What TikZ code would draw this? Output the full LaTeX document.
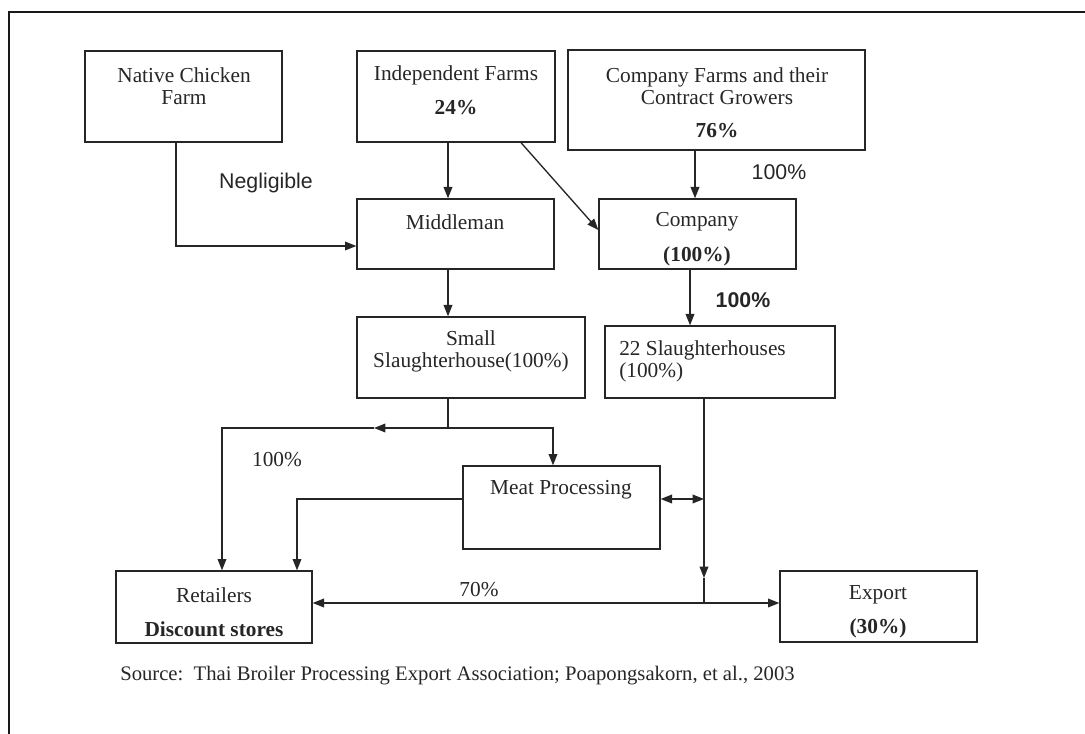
\documentclass[tikz,border=0pt]{standalone}
\usepackage{fontspec}
\setmainfont{Liberation Serif}
\newfontfamily\labelfont{Liberation Sans}
\usetikzlibrary{arrows.meta,fit}

\begin{document}
\begin{tikzpicture}[x=0.75pt,y=-0.75pt,
  box/.style={draw=black!85, line width=1pt, inner sep=0pt},
  txt/.style={font=\fontsize{16}{16.5}\selectfont, text=black!85, inner sep=0pt, align=center},
  lbl/.style={font=\labelfont\fontsize{16}{18}\selectfont, text=black!85, inner sep=0pt},
  conn/.style={draw=black!85, line width=1pt},
  tip/.style={-{Triangle[length=8.5pt,width=6.5pt]}},
  bitip/.style={{Triangle[length=8.5pt,width=6.5pt]}-{Triangle[length=8.5pt,width=6.5pt]}},
]
\useasboundingbox (0,0) rectangle (1085,734);

% outer frame, open to the right and bottom
\draw[line width=2pt, black!90] (9,740) -- (9,12) -- (1092,12);

% boxes
\node[box, fit={(85,51) (282,142)}]   (native)  {};
\node[box, fit={(357,51) (555,142)}]  (indep)   {};
\node[box, fit={(568,50) (865,150)}]  (cfarms)  {};
\node[box, fit={(357,199) (554,269)}] (middle)  {};
\node[box, fit={(599,199) (796,269)}] (company) {};
\node[box, fit={(357,317) (585,398)}] (smallsh) {};
\node[box, fit={(605,326) (835,398)}] (bigsh)   {};
\node[box, fit={(463,466) (660,549)}] (meat)    {};
\node[box, fit={(116,571) (312,643)}] (retail)  {};
\node[box, fit={(780,571) (977,642)}] (export)  {};

% box texts
\node[txt] (tnative) at (184,86) {Native Chicken\\Farm};
\node[txt] (tindep) at (456,75) {Independent Farms};
\node[txt] (pindep) at (456,108) {\textbf{24\%}};
\node[txt] (tcfarms) at (717,86) {Company Farms and their\\Contract Growers};
\node[txt] (pcfarms) at (717,131) {\textbf{76\%}};
\node[txt] (tmiddle) at (455,222) {Middleman};
\node[txt] (tcompany) at (697,222) {Company};
\node[txt] (pcompany) at (697,256) {\textbf{(100\%)}};
\node[txt] (tsmallsh) at (471,351) {Small\\Slaughterhouse(100\%)};
\node[txt, align=left, anchor=west] (tbigsh) at (619,361) {22 Slaughterhouses\\(100\%)};
\node[txt] (tmeat) at (561,490) {Meat Processing};
\node[txt] (tretail) at (214,595) {Retailers};
\node[txt] (pretail) at (214,629) {\textbf{Discount stores}};
\node[txt] (texport) at (878,595) {Export};
\node[txt] (pexport) at (878,628) {\textbf{(30\%)}};

% flow labels
\node[lbl] (lneg) at (266,183) {Negligible};
\node[lbl] (lcf) at (779,172) {100\%};
\node[lbl, font=\labelfont\bfseries\fontsize{16}{18}\selectfont] (lco) at (743,300) {100\%};
\node[txt] (lsmall) at (277,460) {100\%};
\node[txt] (lseventy) at (479,590) {70\%};
\node[txt, font=\fontsize{15.5}{18}\selectfont, anchor=west] (source) at (120,676)
  {Source:\ \ Thai Broiler Processing Export Association; Poapongsakorn, et al., 2003};

% routing points
\coordinate (nbend) at (176,246);
\coordinate (xmid) at (448,0);
\coordinate (xdiag) at (521,0);
\coordinate (ydiag) at (0,230);
\coordinate (xcf) at (695,0);
\coordinate (xco) at (690,0);
\coordinate (split) at (448,428);
\coordinate (lefthead) at (374,428);
\coordinate (leftbend) at (222,428);
\coordinate (rightbend) at (553,428);
\coordinate (meatbend) at (297,499);
\coordinate (ymeat) at (0,499);
\coordinate (xbig) at (704,0);
\coordinate (downhead) at (704,578);
\coordinate (join) at (704,603);
\coordinate (side) at (704,499);

% connectors
\draw[conn,tip] (native.south -| nbend) -- (nbend) -- (middle.west |- nbend);
\draw[conn,tip] (indep.south -| xmid) -- (middle.north -| xmid);
\draw[conn,tip] (indep.south -| xdiag) -- (company.west |- ydiag);
\draw[conn,tip] (cfarms.south -| xcf) -- (company.north -| xcf);
\draw[conn,tip] (company.south -| xco) -- (bigsh.north -| xco);
\draw[conn,tip] (middle.south -| xmid) -- (smallsh.north -| xmid);
\draw[conn] (smallsh.south -| split) -- (split);
\draw[conn,tip] (split) -- (lefthead);
\draw[conn,tip] (lefthead) -- (leftbend) -- (retail.north -| leftbend);
\draw[conn,tip] (split) -- (rightbend) -- (meat.north -| rightbend);
\draw[conn,tip] (meat.west |- ymeat) -- (meatbend) -- (retail.north -| meatbend);
\draw[conn,bitip] (meat.east |- ymeat) -- (side);
\draw[conn,tip] (bigsh.south -| xbig) -- (downhead);
\draw[conn] (downhead) -- (join);
\draw[conn,bitip] (retail.east |- join) -- (export.west |- join);
\end{tikzpicture}
\end{document}
